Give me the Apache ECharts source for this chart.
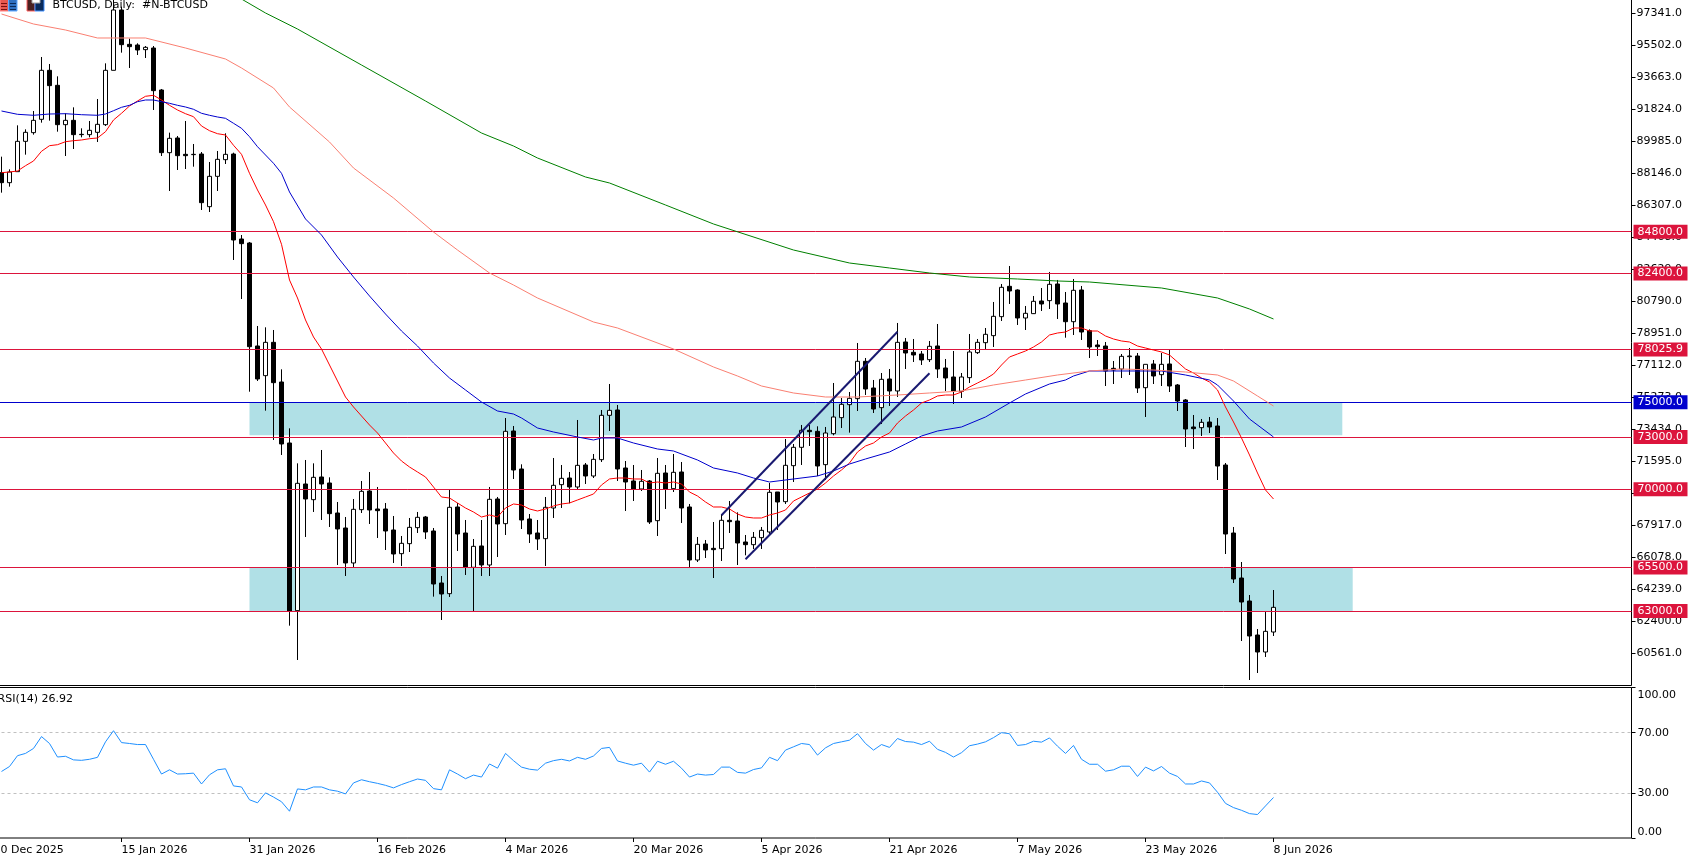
<!DOCTYPE html>
<html>
<head>
<meta charset="utf-8">
<title>BTCUSD Daily</title>
<style>html,body{margin:0;padding:0;background:#fff;overflow:hidden}#chart{width:1688px;height:857px}</style>
<script src="https://cdn.jsdelivr.net/npm/echarts@6/dist/echarts.min.js"></script>
</head>
<body>
<div id="chart"></div>
<script>
// Daily BTCUSD bars, index 0 is the first fully visible session (31 Dec 2025).
const opens = [88194,87619,88251,89994,90493,91259,94075,93213,90952,91201,90397,90378,90512,90952,94075,97542,95569,95531,95263,95358,92945,89343,90186,89247,89228,89266,86240,87983,88941,89266,84381,84152,78233,76528,78443,76164,72658,63022,70302,69401,70704,70359,68635,67773,65762,68827,69899,68865,68865,67658,66298,66873,67792,68405,67601,64612,63999,68980,67486,65513,66739,65647,69440,68022,73348,71164,68290,67486,67160,68922,70263,70646,70129,71394,70761,71700,74248,74554,71221,70474,70014,70474,68194,70934,70033,70991,68980,65934,66853,66604,66585,68214,68175,66968,66815,67217,67543,69842,69286,71355,72409,73386,73329,71413,73194,74114,74861,75206,77352,75819,74689,76336,75647,78463,77869,77773,77447,78233,76968,76451,75627,76413,77850,78424,78827,79919,81662,81451,79842,80091,80819,80838,81796,80704,79629,81451,79113,78290,78232,76949,76910,77619,77657,75837,77198,76585,77198,75991,75129,73577,73539,73864,73634,71393,67485,64899,63577,61623,60646,61795];
const closes = [87619,88232,89994,90512,91201,94075,93194,90952,91201,90378,90378,90627,90971,94075,97542,95550,95435,95243,95397,92906,89343,90167,89171,89171,89247,86470,87983,88960,89247,84324,84113,78192,76336,78443,76125,72601,63003,70340,69440,70685,70302,68597,67716,65762,68846,69880,68808,68769,67601,66279,66892,67811,68386,67543,64555,63980,68961,67428,65513,66719,65647,69421,68003,73329,71106,68233,67428,67141,68961,70225,70627,70129,71374,70761,71719,74248,74535,71164,70417,69995,70455,68118,70915,69995,70972,68922,65934,66834,66509,66528,68214,68137,66911,66815,67236,67639,69823,69267,71375,72409,73386,73309,71336,73233,74152,74880,75225,77352,75761,74612,76317,75647,78443,77830,77716,77428,78214,76911,76394,75647,76451,77888,78443,78903,79938,81604,81394,79842,80110,80800,80647,81777,80647,79629,81433,79037,78175,78194,76795,76853,77638,77657,75818,77178,76508,77178,75933,75071,73462,73481,73845,73577,71335,67427,64841,63519,61565,60646,61834,63213];
const lows = [87044,87389,88251,89228,90378,91067,91182,90550,89151,89554,90224,90224,89956,90876,94075,95090,94209,94956,94784,91795,89151,87140,88347,88404,88538,86048,85933,87140,88692,83175,80933,75606,76221,74516,72830,71968,62160,60187,67256,68693,68233,67830,65647,65014,65513,68635,68003,67198,66509,65762,65589,66394,67486,67141,63827,62486,63808,66451,65072,63003,65014,65014,66106,67371,70589,67715,66911,66509,65589,68348,68922,69190,70014,70302,70646,71566,73348,70474,68750,69325,69899,68003,67313,68865,69842,68060,65512,65819,66049,64899,65876,67486,65646,66202,66566,66566,67371,67658,69152,70417,71394,72486,70762,70532,73099,73520,73252,74497,75417,74382,73750,74784,75302,76911,77313,77141,77313,76394,75647,74899,75244,76106,77773,78060,78175,79670,80647,79440,79152,80072,80244,80359,79784,78709,78865,78577,77542,77657,75933,76048,76393,76565,75531,74152,76048,75933,75588,74496,72427,72313,73060,73232,70531,66278,64611,61278,59037,59439,60359,61565];
const highs = [89113,88385,90914,90684,91738,94841,94439,93730,91604,91948,90742,91163,92427,94477,98210,97734,95895,95627,95473,95473,93002,90493,90301,91163,89841,89381,88807,89439,90454,89343,84611,84209,79382,79306,79152,76892,73501,71489,71681,71489,72256,70685,69267,68405,69440,70474,70991,70129,69210,68463,67313,68348,68693,68463,67773,65014,69957,69210,68233,67141,68233,70129,69555,74095,73635,71432,68577,68233,69554,71796,71394,70991,73980,71508,72026,74554,76049,74842,71623,71394,71106,70531,71796,71394,72026,71566,69152,67256,67083,68118,68577,69325,68673,67371,67543,67830,70359,69842,72888,72600,73693,73693,73616,73578,76106,75244,75589,78405,77543,76279,76681,76911,79555,78693,78635,77945,78520,79497,77486,77945,76681,78922,78635,79267,80762,81796,82830,81489,80532,81106,81566,82486,82026,81336,82083,81681,79190,78577,78462,77370,77772,78117,77830,77178,77427,77830,78002,76048,75186,74267,74037,74152,74094,71508,67830,65818,63922,61968,62945,64209];

// Fast moving average, one reading per session.
const redMA = [88192,88232,88290,88594,88864,89422,89744,89801,89973,90031,90071,90146,90186,90548,91221,91606,92025,92313,92583,92640,92370,92065,91795,91583,91410,90876,90606,90433,90359,89767,89249,88157,87198,86336,85376,84077,82025,80991,79727,78750,78060,77140,76221,75301,74727,74209,73692,73232,72658,72083,71623,71279,70991,70704,70129,69554,69497,69210,68922,68692,68405,68520,68405,68922,69152,69095,68865,68750,68865,69037,69152,69210,69382,69554,69727,70244,70589,70646,70646,70589,70589,70359,70416,70359,70416,70302,69842,69612,69267,68980,68980,68865,68577,68405,68348,68348,68520,68635,68807,69325,69554,69784,70014,70359,70761,71106,71508,72141,72485,72658,73003,73232,73807,74209,74554,74957,75129,75359,75416,75416,75589,75876,76106,76336,76623,77140,77600,77773,77945,78175,78462,78865,78979,79037,79267,79267,79094,79094,78807,78635,78520,78462,78232,78117,78002,77888,77715,77313,76911,76681,76393,76163,75704,74727,73865,72945,71968,70934,69957,69439];
// Slower averages, read at the sessions listed in each *Days array.
const blueDays = [0,2,4,6,8,10,12,13,14,15,16,17,18,19,20,21,22,23,24,25,26,27,28,29,30,31,32,33,34,35,36,38,40,42,44,46,48,50,52,54,56,58,60,62,64,65,67,69,72,74,75,77,79,82,84,87,89,92,94,96,99,102,104,106,108,111,113,115,117,120,123,126,128,131,133,134,136,141,145,148,151,152,154,156,159];
const blueMA = [91738,91548,91491,91565,91583,91525,91491,91565,91755,91950,92065,92272,92370,92370,92272,92180,92065,91968,91836,91606,91491,91393,91318,91031,90744,90261,89686,89209,88732,88157,87083,85531,84612,83347,82198,81106,80071,79094,78232,77255,76393,75704,75014,74497,74324,74095,73520,73290,73003,72830,72945,72945,72658,72313,72198,71681,71221,70934,70646,70416,70589,70761,71049,71451,71738,72141,72600,73060,73347,73577,74152,74957,75474,76049,76278,76508,76796,76796,76796,76566,76278,75991,75072,74037,73003];
const salmonDays = [0,4,8,12,18,23,28,30,34,36,41,44,49,54,57,61,64,67,74,77,84,89,92,95,99,103,107,112,116,120,124,128,132,136,140,144,148,152,154,157,159];
const salmonMA = [97312,96738,96393,95933,95933,95358,94726,94209,93060,91968,89956,88462,86738,84784,83749,82428,81738,80991,79612,79267,78060,77026,76508,75934,75531,75301,75301,75416,75531,75646,75991,76278,76566,76796,76911,76853,76738,76566,76221,75359,74784];
const greenDays = [30,33,37,45,53,60,64,67,73,76,83,89,99,106,111,116,121,127,132,136,145,152,156,159];
const greenMA = [98174,97370,96450,94381,92313,90473,89726,89037,87945,87600,86336,85244,83749,83002,82715,82428,82198,82083,81968,81910,81566,80991,80359,79784];

// RSI(14) per session.
const rsiValues = [44.2,47.5,54.7,56.2,59.5,67.4,62.8,53.8,54.3,51.9,51.6,52.3,53.6,63.9,71.3,63.4,62.8,62.1,62.1,52.3,42.5,45.3,42.5,42.7,43.1,35.9,42.0,45.3,46.0,34.6,33.9,25.4,23.4,30.0,27.2,24.1,17.8,32.6,32.0,33.9,33.9,32.0,31.1,29.3,36.6,38.7,37.4,36.3,35.0,33.3,35.5,37.4,39.2,38.3,32.8,32.0,45.3,42.5,39.4,41.8,40.5,49.2,46.4,56.2,51.4,47.1,45.7,45.1,49.7,51.4,52.3,51.2,53.6,52.3,54.5,59.5,60.2,51.2,49.7,48.4,49.7,43.8,51.0,49.0,51.0,46.4,40.5,42.5,41.8,42.2,47.1,47.1,43.6,43.1,45.5,46.6,53.6,51.4,58.4,60.6,62.8,62.1,55.1,59.9,62.8,63.9,65.0,69.3,62.8,58.4,62.1,60.2,66.1,64.1,63.7,62.1,64.3,58.9,56.9,53.8,56.7,61.3,62.4,63.9,66.7,70.0,69.3,61.5,62.1,64.3,63.7,66.5,61.0,56.2,61.5,52.3,49.0,49.0,44.4,45.3,47.7,47.7,40.9,47.1,44.6,47.5,43.1,40.9,35.9,35.9,37.9,36.6,30.4,23.0,20.2,18.4,16.2,15.6,21.3,26.92];

// Axis ticks.
const priceTicks = [60561,62400,64239,66078,67917,69756,71595,73434,75273,77112,78951,80790,82629,84468,86307,88146,89985,91824,93663,95502,97341];
const rsiTicks = [0,30,70,100];
const dateTicks = [-1,15,31,47,63,79,95,111,127,143,159];
const dateLabels = ['30 Dec 2025','15 Jan 2026','31 Jan 2026','16 Feb 2026','4 Mar 2026','20 Mar 2026','5 Apr 2026','21 Apr 2026','7 May 2026','23 May 2026','8 Jun 2026'];

// Horizontal levels and their price tags.
const redLevels = [84800,82400,78025.9,73000,70000,65500,63000];
const blueLevels = [75000];

// Shaded zones: [first session, last session, upper price, lower price].
const zones = [[31,167.6,75000,73100],[31,168.9,65500,63000]];
// Rising channel drawn by hand: [session, price] end points.
const channelUpper = [[90,68502],[112,79054]];
const channelLower = [[93,65974],[116,76663]];

const FONT = 'DejaVu Sans';
const candles = opens.map((o, i) => [i, o, closes[i], lows[i], highs[i]]);
const pairs = (days, vals) => days.map((d, i) => [d, vals[i]]);

const levelLine = (value, color) => ({
  yAxis: value,
  lineStyle: {color: color, width: 1, type: 'solid'},
  label: {
    show: true, position: 'end', distance: 2,
    formatter: value.toFixed(1), color: '#fff', fontFamily: FONT, fontSize: 11,
    backgroundColor: color, padding: [0, 4], lineHeight: 14, height: 14, width: 46, align: 'left'
  }
});
const maSeries = (name, data, color, width) => ({
  name: name, type: 'line', xAxisIndex: 0, yAxisIndex: 0, data: data, symbol: 'none', z: 5,
  lineStyle: {color: color, width: width || 1}, silent: true
});
// Toolbar glyphs sitting at the very top of the window.
const glyph = (x, w, fill, stroke) => ({type: 'rect', x: x, y: -1, z: 20, shape: {width: w, height: 12}, style: {fill: fill, stroke: stroke, lineWidth: 1}});
const bar = (x, y, w, color) => ({type: 'rect', x: x, y: y, z: 21, shape: {width: w, height: 1}, style: {fill: color}});
const caption = (text, x, y) => ({type: 'text', x: x, y: y, z: 20, style: {text: text, fill: '#000', fontFamily: FONT, fontSize: 11, verticalAlign: 'middle', align: 'left'}});

const chart = echarts.init(document.getElementById('chart'), null, {renderer: 'canvas'});
chart.setOption({
  animation: false,
  backgroundColor: '#fff',
  grid: [
    {left: -10.5, top: -5, width: 1642, height: 690.5, outerBoundsMode: 'none', show: true, borderColor: '#000', borderWidth: 1, backgroundColor: 'transparent'},
    {left: -10.5, top: 687.5, width: 1642, height: 150.5, outerBoundsMode: 'none', show: true, borderColor: '#000', borderWidth: 1, backgroundColor: 'transparent'}
  ],
  xAxis: [
    {type: 'value', gridIndex: 0, min: -1.5, max: 203.75, show: false, splitLine: {show: false}},
    {type: 'value', gridIndex: 1, min: -1.5, max: 203.75, position: 'bottom', splitLine: {show: false}, axisLine: {show: false, onZero: false},
      axisTick: {show: true, length: 4, customValues: dateTicks, lineStyle: {color: '#000'}},
      axisLabel: {show: true, customValues: dateTicks, align: 'left', margin: 6.5, color: '#000', fontFamily: FONT, fontSize: 11,
        formatter: v => dateLabels[dateTicks.indexOf(v)], hideOverlap: false}}
  ],
  yAxis: [
    {type: 'value', gridIndex: 0, position: 'right', min: 58721, max: 98404, scale: true, splitLine: {show: false}, axisLine: {show: false, onZero: false},
      axisTick: {show: true, inside: false, length: 4, customValues: priceTicks, lineStyle: {color: '#000'}},
      axisLabel: {show: true, customValues: priceTicks, margin: 5, padding: [2, 0, 0, 0], color: '#000', fontFamily: FONT, fontSize: 11, formatter: v => v.toFixed(1)}},
    {type: 'value', gridIndex: 1, position: 'right', min: 0, max: 100, splitLine: {show: false}, axisLine: {show: false, onZero: false},
      axisTick: {show: true, inside: false, length: 4, customValues: rsiTicks, lineStyle: {color: '#000'}},
      axisLabel: {show: true, customValues: rsiTicks, margin: 6, padding: [2, 0, 0, 0], color: '#000', fontFamily: FONT, fontSize: 11, formatter: v => v.toFixed(2),
        verticalAlignMaxLabel: 'top', verticalAlignMinLabel: 'bottom'}}
  ],
  series: [
    {type: 'line', name: 'zones', xAxisIndex: 0, yAxisIndex: 0, data: [], z: 1, silent: true,
      markArea: {silent: true, itemStyle: {color: '#B0E0E6'},
        data: zones.map(z => [{xAxis: z[0], yAxis: z[2]}, {xAxis: z[1], yAxis: z[3]}])}},
    {type: 'line', name: 'levels', xAxisIndex: 0, yAxisIndex: 0, data: [], z: 2, silent: true,
      markLine: {silent: true, symbol: 'none', animation: false,
        data: redLevels.map(v => levelLine(v, '#DC143C')).concat(blueLevels.map(v => levelLine(v, '#0000CD')))}},
    {type: 'candlestick', name: 'BTCUSD', xAxisIndex: 0, yAxisIndex: 0, data: candles, z: 3, silent: true,
      encode: {x: 0, y: [1, 2, 3, 4]}, barWidth: 4,
      itemStyle: {color: '#fff', color0: '#000', borderColor: '#000', borderColor0: '#000', borderWidth: 1}},
    maSeries('MA fast', redMA.map((v, i) => [i, v]), '#FF0000'),
    maSeries('MA mid', pairs(blueDays, blueMA), '#0000CD'),
    maSeries('MA slow', pairs(salmonDays, salmonMA), '#FA8072'),
    maSeries('MA long', pairs(greenDays, greenMA), '#008000'),
    maSeries('Channel upper', channelUpper, '#191970', 2),
    maSeries('Channel lower', channelLower, '#191970', 2),
    {type: 'line', name: 'RSI', xAxisIndex: 1, yAxisIndex: 1, data: rsiValues.map((v, i) => [i, v]), symbol: 'none', z: 5, silent: true,
      lineStyle: {color: '#1E90FF', width: 1},
      markLine: {silent: true, symbol: 'none', animation: false, label: {show: false},
        lineStyle: {color: '#C0C0C0', width: 1, type: [3, 3]}, data: [{yAxis: 70}, {yAxis: 30}]}}
  ],
  graphic: [
    glyph(0, 8.5, '#E8584F', '#FF8080'), glyph(8.5, 8.5, '#2F6FC0', '#60A8FF'),
    glyph(27, 8, '#4a2020', '#FF6060'), glyph(35, 9, '#0a2a5a', '#4090FF'),
    bar(1, 3, 6, '#7a1010'), bar(1, 6, 6, '#7a1010'), bar(1, 9, 6, '#7a1010'),
    bar(10, 3, 6, '#0a2a5a'), bar(10, 6, 6, '#0a2a5a'), bar(10, 9, 6, '#0a2a5a'),
    {type: 'rect', x: 32, y: -1, z: 21, shape: {width: 8, height: 4}, style: {fill: '#fff', stroke: '#A0A0A0', lineWidth: 1}},
    caption('BTCUSD, Daily:  #N-BTCUSD', 52.5, 5),
    caption('RSI(14) 26.92', -2.4, 699)
  ]
});
</script>
</body>
</html>
